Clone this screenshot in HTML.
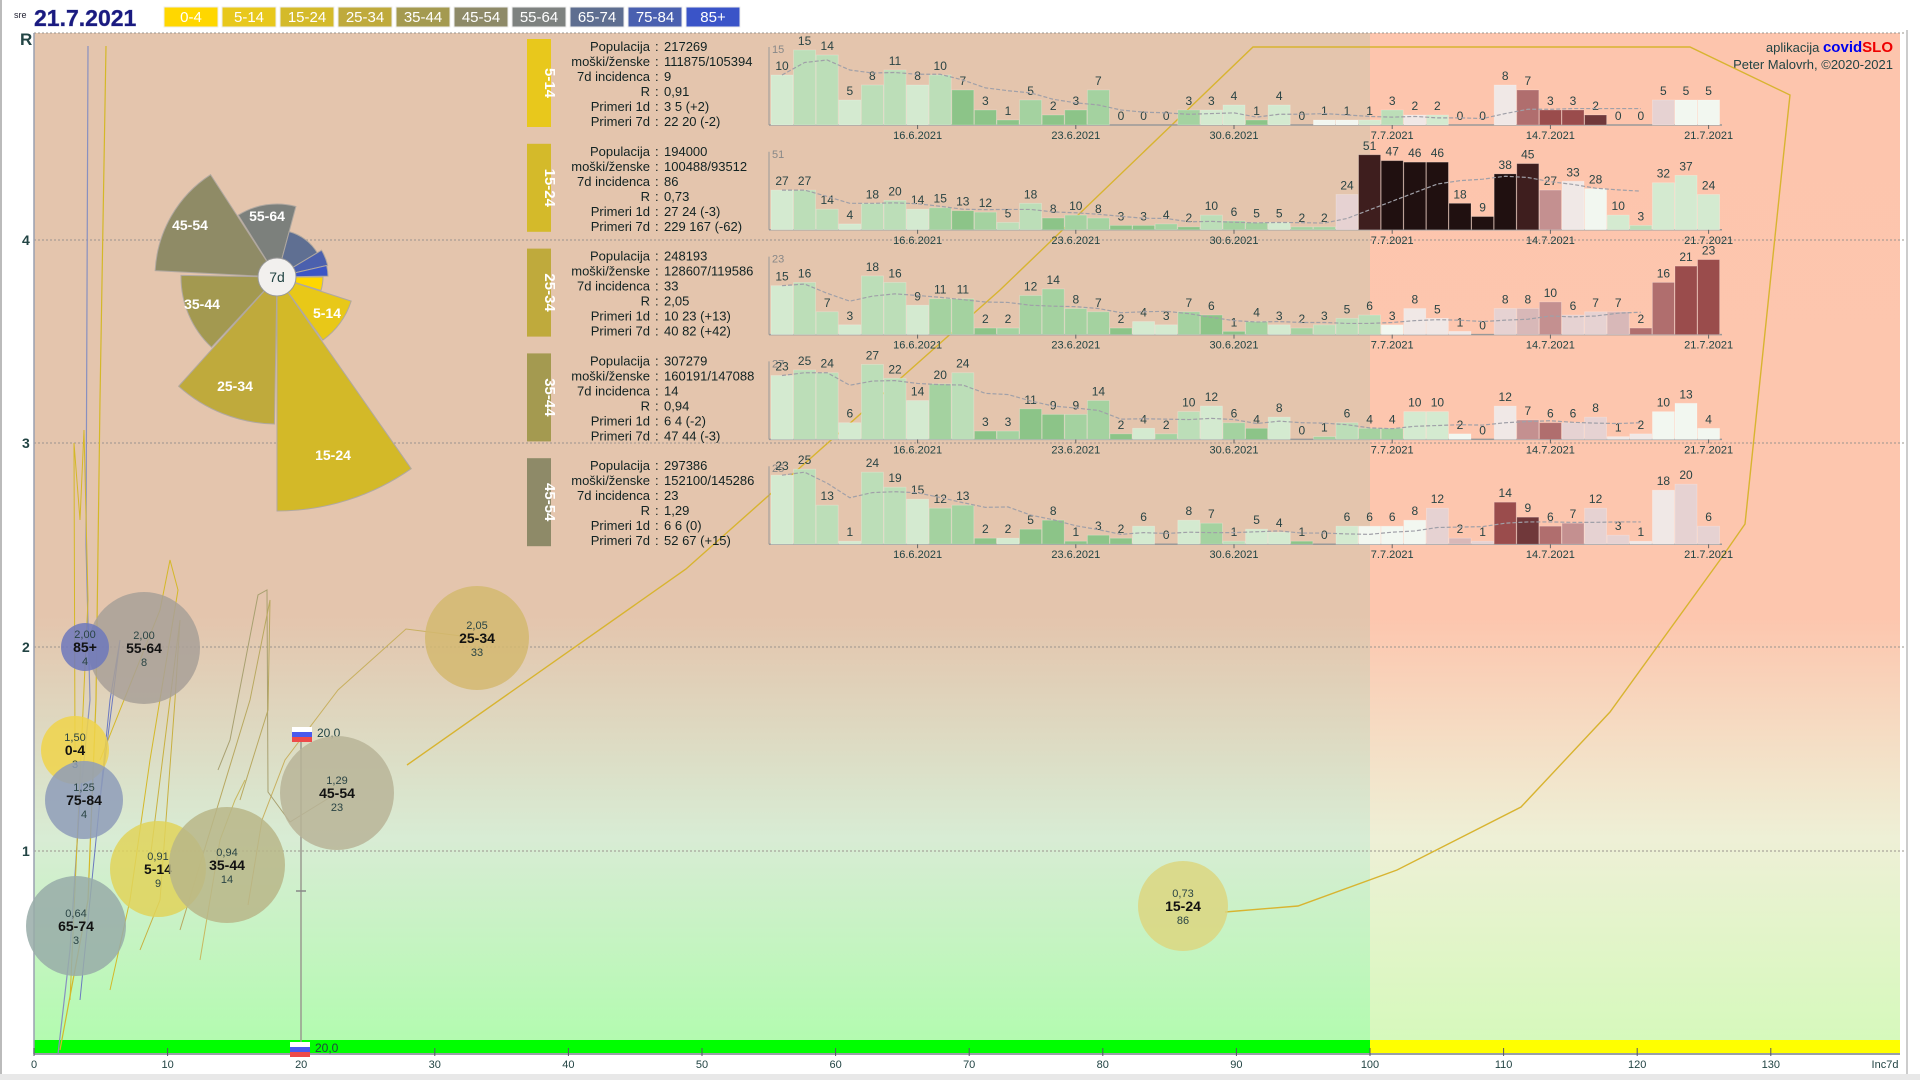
<!DOCTYPE html>
<html><head><meta charset="utf-8">
<style>
html,body{margin:0;padding:0;background:#fff;width:1920px;height:1080px;overflow:hidden}
svg{display:block;font-family:"Liberation Sans",sans-serif}
</style></head>
<body>
<svg id="s" width="1920" height="1080" viewBox="0 0 1920 1080" xmlns="http://www.w3.org/2000/svg">
<defs>
<linearGradient id="gl" x1="0" y1="0" x2="0" y2="1">
<stop offset="0" stop-color="#e4c5ad"/><stop offset="0.58" stop-color="#e4c5ad"/>
<stop offset="0.8" stop-color="#d8ecd4"/><stop offset="1" stop-color="#b3fbb0"/></linearGradient>
<linearGradient id="gr" x1="0" y1="0" x2="0" y2="1">
<stop offset="0" stop-color="#fdc5ad"/><stop offset="0.58" stop-color="#fdc6ae"/>
<stop offset="0.8" stop-color="#eef0d6"/><stop offset="1" stop-color="#d6f9bc"/></linearGradient>
</defs>
<rect x="0" y="0" width="1920" height="1080" fill="#fff"/>
<line x1="1" y1="0" x2="1" y2="1080" stroke="#bbb" stroke-width="2"/>
<line x1="1907" y1="30" x2="1907" y2="1080" stroke="#ccc" stroke-width="2"/>
<rect x="0" y="1074" width="1920" height="6" fill="#e8e8e8"/>
<rect x="34" y="33" width="1336" height="1007" fill="url(#gl)"/>
<rect x="1370" y="33" width="530" height="1007" fill="url(#gr)"/>
<rect x="34" y="1040" width="1336" height="14" fill="#00ff00"/>
<rect x="1370" y="1040" width="530" height="14" fill="#ffff00"/>
<g stroke="#9a948e" stroke-width="1" stroke-dasharray="2,2">
<line x1="34" y1="33" x2="1905" y2="33"/><line x1="34" y1="240" x2="1905" y2="240"/>
<line x1="34" y1="443" x2="1905" y2="443"/><line x1="34" y1="647" x2="1905" y2="647"/>
<line x1="34" y1="851" x2="1905" y2="851"/></g>
<line x1="34" y1="33" x2="34" y2="1054" stroke="#9aa0b0" stroke-width="1.5"/>
<line x1="34" y1="1054" x2="1900" y2="1054" stroke="#9aa0a8" stroke-width="2"/>
<g font-size="14" fill="#244" font-weight="bold">
<text x="20" y="45" font-size="17">R</text>
<text x="22" y="245">4</text><text x="22" y="448">3</text><text x="22" y="652">2</text><text x="22" y="856">1</text></g>
<g id="xt" font-size="11" fill="#244"></g>
<text x="14" y="18" font-size="9" fill="#223">sre</text>
<text x="34" y="26" font-size="23" font-weight="bold" fill="#1a1a80" font-family="Liberation Sans Narrow, Liberation Sans, sans-serif" style="paint-order:stroke" stroke="#8890c0" stroke-width="0.6">21.7.2021</text>
<g id="leg"></g>
<text x="1893" y="52" font-size="13" fill="#244" text-anchor="end">aplikacija <tspan fill="#0000ee" font-weight="bold" font-size="15">covid</tspan><tspan fill="#ee0000" font-weight="bold" font-size="15">SLO</tspan></text>
<text x="1893" y="69" font-size="13" fill="#244" text-anchor="end">Peter Malovrh, ©2020-2021</text>
<g id="trails" fill="none"></g>
<g id="rose"></g>
<g id="panels"></g>
<g id="bub"></g>
</svg>
<script>
var NS="http://www.w3.org/2000/svg";
function el(p,t,a,tx){var e=document.createElementNS(NS,t);for(var k in a)e.setAttribute(k,a[k]);if(tx!==undefined)e.textContent=tx;p.appendChild(e);return e;}
var xt=document.getElementById('xt');
for(var i=0;i<=13;i++){var x=34+i*133.6;el(xt,'line',{x1:x,y1:1048,x2:x,y2:1056,stroke:'#556'});el(xt,'text',{x:x,y:1068,'text-anchor':'middle'},String(i*10));}
el(xt,'text',{x:1885,y:1068,'text-anchor':'middle'},'Inc7d');
var L=[['0-4','#ffd700'],['5-14','#e8c81c'],['15-24','#d4ba2a'],['25-34','#bfaa3c'],['35-44','#a49a50'],['45-54','#8e8a68'],['55-64','#7e8280'],['65-74','#5e6e90'],['75-84','#4a60b0'],['85+','#3a54c8']];
var lg=document.getElementById('leg');
L.forEach(function(l,i){var x=164+i*58;el(lg,'rect',{x:x,y:7,width:54,height:20,fill:l[1],stroke:'#eee'});el(lg,'text',{x:x+27,y:22,'text-anchor':'middle','font-size':15,fill:'#fff'},l[0]);});
var tr=document.getElementById('trails');
function pl(pts,c,w){el(tr,'polyline',{points:pts,stroke:c,'stroke-width':w||1.2});}
pl('1225,912 1298,906 1397,870 1521,807 1610,712 1720,560 1745,524 1783,160 1790,95 1690,47 1253,47 1000,290 686,569 407,765','#d8b430',1.4);
pl('477,638 406,629 338,690 285,760 262,820 248,905','#c8b060',1);
pl('337,793 290,822 268,792 267,590 258,595 230,740 218,770','#a8a070',1);
pl('88,46 86,545 90,700 80,800 70,950 58,1054','#8890c0',1.2);
pl('106,46 100,400 96,700 88,900 60,1050','#d4b828',1.2);
pl('75,750 74,443 80,520 84,430 88,600 70,1000','#d4b828',1);
pl('100,760 160,610 170,560 178,590 150,760 130,900 110,990','#d4b828',1);
pl('150,860 180,620 175,700 160,900 140,950','#c8b040',1);
pl('90,900 110,700 120,640 100,800 80,1000','#6a78c0',1);
pl('180,930 250,700 270,600 268,710 240,800','#b8a860',1);
pl('200,960 220,840 235,800 245,780','#c8b860',1);
el(tr,'line',{x1:301,y1:735,x2:301,y2:1054,stroke:'#9a9a90','stroke-width':1.5});
el(tr,'line',{x1:296,y1:891,x2:306,y2:891,stroke:'#888','stroke-width':1.5});
function flag(x,y,t){el(tr,'rect',{x:x,y:y,width:20,height:5,fill:'#fff'});el(tr,'rect',{x:x,y:y+5,width:20,height:5,fill:'#4a5aee'});el(tr,'rect',{x:x,y:y+10,width:20,height:5,fill:'#ee4a4a'});el(tr,'text',{x:x+25,y:y+10,'font-size':12,fill:'#244'},t);}
flag(292,727,'20,0');flag(290,1042,'20,0');
var rs=document.getElementById('rose');var cx=277,cy=277;
var R=[['55-64',-32,15,73,'#7c807c'],['65-74',15,59,47,'#5f6f92'],['75-84',59,77,52,'#4b60ae'],['85+',77,89,51,'#3b55c6'],['0-4',90,107,46,'#ffd700'],['5-14',108,144,78,'#e8c818'],['15-24',145,180,234,'#d3b928'],['25-34',181,222,147,'#bfaa3c'],['35-44',223,271,96,'#a39950'],['45-54',273,327,122,'#8f8b66']];
function pt(a,r){var t=a*Math.PI/180;return [cx+r*Math.sin(t),cy-r*Math.cos(t)];}
R.forEach(function(s){var a=pt(s[1],s[3]),b=pt(s[2],s[3]);
el(rs,'path',{d:'M'+cx+','+cy+' L'+a[0]+','+a[1]+' A'+s[3]+','+s[3]+' 0 0 1 '+b[0]+','+b[1]+' Z',fill:s[4],stroke:'#b0a8a0','stroke-width':1});});
el(rs,'circle',{cx:cx,cy:cy,r:19,fill:'#f2f0ee',stroke:'#999'});
el(rs,'text',{x:cx,y:cy+5,'text-anchor':'middle','font-size':14,fill:'#244'},'7d');
[['45-54',190,230],['55-64',267,221],['35-44',202,309],['25-34',235,391],['15-24',333,460],['5-14',327,318]].forEach(function(l){el(rs,'text',{x:l[1],y:l[2],'text-anchor':'middle','font-size':14,fill:'#fff','font-weight':'bold'},l[0]);});
var P=[
['5-14','#e8c81c',['217269','111875/105394','9','0,91','3 5 (+2)','22 20 (-2)'],[10,15,14,5,8,11,8,10,7,3,1,5,2,3,7,0,0,0,3,3,4,1,4,0,1,1,1,3,2,2,0,0,8,7,3,3,2,0,0,5,5,5],'gWWgGwgggwsRRDggpWW',23],
['15-24','#d4ba2a',['194000','100488/93512','86','0,73','27 24 (-3)','229 167 (-62)'],[27,27,14,4,18,20,14,15,13,12,5,18,8,10,8,3,3,4,2,10,6,5,5,2,2,24,51,47,46,46,18,9,38,45,27,33,28,10,3,32,37,24],'pKkkkkkkKrwWgGggg',25],
['25-34','#bfaa3c',['248193','128607/119586','33','2,05','10 23 (+13)','40 82 (+42)'],[15,16,7,3,18,16,9,11,11,2,2,12,14,8,7,2,4,3,7,6,1,4,3,2,3,5,6,3,8,5,1,0,8,8,10,6,7,7,2,16,21,23],'GGWwwwwpqrppqssRR',25],
['35-44','#a49a50',['307279','160191/147088','14','0,94','6 4 (-2)','47 44 (-3)'],[23,25,24,6,27,22,14,20,24,3,3,11,9,9,14,2,4,2,10,12,6,4,8,0,1,6,4,4,10,10,2,0,12,7,6,6,8,1,2,10,13,4],'GHHggWWwrsppwwWWW',25],
['45-54','#8e8a68',['297386','152100/145286','23','1,29','6 6 (0)','52 67 (+15)'],[23,25,13,1,24,19,15,12,13,2,2,5,8,1,3,2,6,0,8,7,1,5,4,1,0,6,6,6,8,12,2,1,14,9,6,7,12,3,1,18,20,6],'gWWWpqpRDsrppwwpp',25]];
var C={g:'#d4ead0',G:'#bcdeb8',H:'#a4d2a0',J:'#8cc488',W:'#f2f7f0',w:'#f0e8e6',p:'#e6d2d2',q:'#d8b8b8',r:'#c49090',s:'#b06e6e',R:'#9a4c4c',D:'#70383a',k:'#201010',K:'#3e1e1e'};
var labs=['Populacija','moški/ženske','7d incidenca','R','Primeri 1d','Primeri 7d'];
var dates=[[6,'16.6.2021'],[13,'23.6.2021'],[20,'30.6.2021'],[27,'7.7.2021'],[34,'14.7.2021'],[41,'21.7.2021']];
var pg=document.getElementById('panels');
P.forEach(function(p,k){var b=125+104.8*k;
el(pg,'rect',{x:527,y:b-86,width:24,height:88,fill:p[1]});
el(pg,'text',{x:0,y:0,transform:'translate(545,'+(b-42)+') rotate(90)','text-anchor':'middle','font-size':15,'font-weight':'bold',fill:'#fff'},p[0]);
for(var j=0;j<6;j++){var y=b-74+j*15;el(pg,'text',{x:650,y:y,'text-anchor':'end','font-size':13,fill:'#122'},labs[j]);el(pg,'text',{x:655,y:y,'font-size':13,fill:'#122'},':');el(pg,'text',{x:664,y:y,'font-size':13,fill:'#122'},p[2][j]);}
var v=p[3],mx=Math.max.apply(null,v),sc=75/mx,st=p[5];
el(pg,'line',{x1:769,y1:b-78,x2:769,y2:b,stroke:'#999'});
el(pg,'line',{x1:769,y1:b,x2:1722,y2:b,stroke:'#999','stroke-width':1.5});
el(pg,'text',{x:772,y:b-72,'font-size':11,fill:'#888'},String(mx));
var avg=[];
v.forEach(function(val,i){var x=782+22.6*i,h=val*sc,c;
if(i<st){var prev=i>=7?v[i-7]:val+1;var r=val/Math.max(prev,0.5);c=i<7?(i%3==0?'g':'G'):(r<0.5?'J':(r<0.9?'H':(r<1.3?'G':'g')));}else c=p[4][i-st];
el(pg,'rect',{x:x-11,y:b-h,width:22,height:Math.max(h,0),fill:C[c],stroke:'rgba(255,255,255,0.25)','stroke-width':0.8});
el(pg,'text',{x:x,y:b-h-5,'text-anchor':'middle','font-size':12,fill:'#2a4444'},String(val));
var s=0,n=0;for(var m=Math.max(0,i-6);m<=i;m++){s+=v[m];n++;}avg.push(s/n);});
var pts=[];for(var i=0;i<=38;i++){pts.push((782+22.6*i)+','+(b-avg[i]*sc));}
el(pg,'polyline',{points:pts.join(' '),fill:'none',stroke:'#a0a0a8','stroke-width':1.2,'stroke-dasharray':'4,2'});
dates.forEach(function(d){var x=782+22.6*d[0];el(pg,'line',{x1:x,y1:b,x2:x,y2:b+4,stroke:'#666'});el(pg,'text',{x:x,y:b+14,'text-anchor':'middle','font-size':11,fill:'#244'},d[1]);});
});
var B=[['55-64',144,648,56,'#a8a098','2,00','8'],['85+',85,647,24,'#6d78bc','2,00','4'],['0-4',75,750,34,'#f0d44a','1,50','3'],['75-84',84,800,39,'#8e9cb8','1,25','4'],['65-74',76,926,50,'#98aca8','0,64','3'],['5-14',158,869,48,'#e0d45a','0,91','9'],['35-44',227,865,58,'#b8b688','0,94','14'],['45-54',337,793,57,'#b8b498','1,29','23'],['25-34',477,638,52,'#d4b870','2,05','33'],['15-24',1183,906,45,'#dcd680','0,73','86']];
var bg=document.getElementById('bub');
B.forEach(function(q){el(bg,'circle',{cx:q[1],cy:q[2],r:q[3],fill:q[4],'fill-opacity':0.85});
el(bg,'text',{x:q[1],y:q[2]-9,'text-anchor':'middle','font-size':11,fill:'#2a4444'},q[5]);
el(bg,'text',{x:q[1],y:q[2]+5,'text-anchor':'middle','font-size':14,'font-weight':'bold',fill:'#111'},q[0]);
el(bg,'text',{x:q[1],y:q[2]+18,'text-anchor':'middle','font-size':11,fill:'#2a4444'},q[6]);});
</script>
</body></html>
